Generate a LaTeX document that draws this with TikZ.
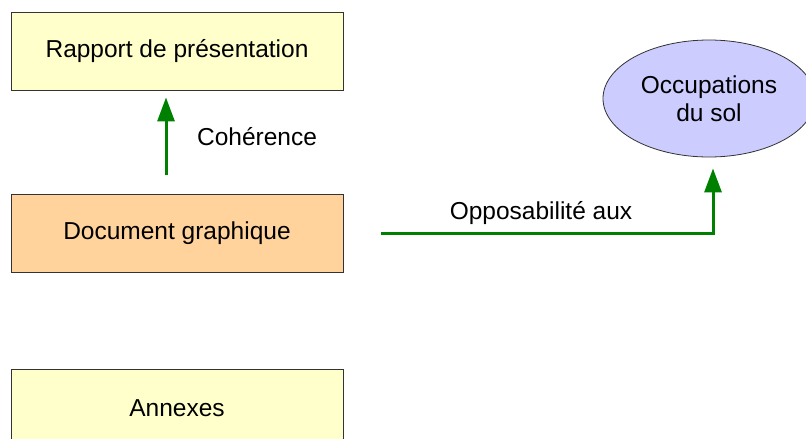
\documentclass[tikz,border=0pt]{standalone}
\usepackage{fontspec}
\setmainfont{Liberation Sans}
\usetikzlibrary{arrows.meta,shapes.geometric}
\definecolor{boxyellow}{HTML}{FFFFCC}
\definecolor{boxpeach}{HTML}{FFD39B}
\definecolor{lilac}{HTML}{CCCCFF}
\definecolor{linkgreen}{HTML}{008000}
\begin{document}
\begin{tikzpicture}[x=1pt, y=-1pt,
  txt/.style={font=\fontsize{24.5}{28}\selectfont},
  box/.style={txt, draw=black!80, line width=0.8pt, minimum width=332pt, minimum height=78pt, inner sep=0pt},
  link/.style={linkgreen, line width=3pt, -{Triangle[length=24pt,width=17pt]}}]
\useasboundingbox (0,0) rectangle (806,439);
% --- documents ---
\node[box, fill=boxyellow] (rapport) at (177,51) {Rapport de présentation};
\node[box, fill=boxpeach] (docgraph) at (177,233.5) {Document graphique};
\node[box, fill=boxyellow] (annexes) at (177,408.5) {Annexes};
\node[txt, ellipse, draw=black!80, line width=0.8pt, fill=lilac, minimum width=212pt, minimum height=117pt, inner sep=0pt, align=center] (occup) at (709,98.5) {Occupations\\du sol};
% --- liens ---
\coordinate (cohbas) at (166,175);
\draw[link, shorten >=7pt] (cohbas) -- (cohbas |- rapport.south);
\node[txt] (coh) at (257,137) {Cohérence};
\coordinate (oppdep) at (381,233);
\draw[link, shorten >=11pt] (oppdep) -| ([xshift=4pt]occup.south);
\node[txt] (opp) at (541,213) {Opposabilité aux};
\end{tikzpicture}
\end{document}
